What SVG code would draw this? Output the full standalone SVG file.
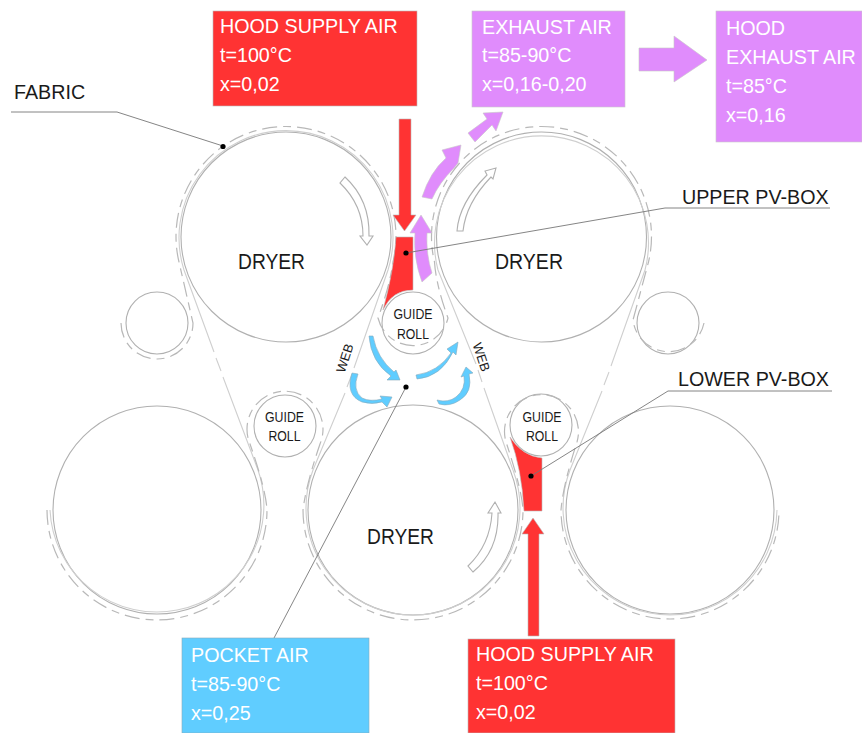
<svg xmlns="http://www.w3.org/2000/svg" width="862" height="733" viewBox="0 0 862 733">
<defs>
<style>
text{font-family:"Liberation Sans",Arial,sans-serif;font-size:19.7px;fill:#1a1a1a}
.box text{fill:#fff}
.small{font-size:15px;text-anchor:middle}
.web-t{font-size:13px;text-anchor:middle}
.dry{font-size:22px;text-anchor:middle}
.roll{fill:#fff;stroke:#b0b0b0;stroke-width:1.1}
.fab{fill:none;stroke:#b8b8b8;stroke-width:1.2;stroke-dasharray:15 6 8 6}
.web{fill:none;stroke:#cfcfcf;stroke-width:1.1}
.lead{fill:none;stroke:#777;stroke-width:.9}
.dot{fill:#000}
.red{fill:#ff3333;stroke:#bbb;stroke-width:.6}
.pur{fill:#e08cfc;stroke:#c8c8c8;stroke-width:.6}
.blu{fill:#60cdff;stroke:#8ab;stroke-width:.6}
.wht{fill:#fff;stroke:#b0b0b0;stroke-width:1.1}
</style>
</defs>
<g id="dryer-top-left"><circle class="roll" cx="286" cy="237" r="105"/></g>
<g id="dryer-top-right"><circle class="roll" cx="541.5" cy="237" r="105"/></g>
<g id="dryer-bottom-left"><circle class="roll" cx="157" cy="510" r="104"/></g>
<g id="dryer-bottom-mid"><circle class="roll" cx="413" cy="510" r="105"/></g>
<g id="dryer-bottom-right"><circle class="roll" cx="670" cy="510" r="104"/></g>
<g id="roll-left"><circle class="roll" cx="157" cy="323" r="31"/></g>
<g id="roll-right"><circle class="roll" cx="668" cy="323" r="31"/></g>
<g id="guide-roll-top"><circle class="roll" cx="413" cy="323" r="31"/></g>
<g id="guide-roll-left"><circle class="roll" cx="285" cy="426" r="31"/></g>
<g id="guide-roll-right"><circle class="roll" cx="541" cy="425" r="31"/></g>
<g id="fabric-and-web">
<path class="web" d="M50 510A107 107 0 1 0 258 470L223 377M221 371L216 358M214 352L184 270A107 107 0 1 1 388 270L354 368M352 374L347 387M345 393L313 470A107 107 0 1 0 513 470L484 388M482 382L478 370M476 364L438 270A107 107 0 1 1 645 270L611 366M609 372L604 385M602 391L570 470A107 107 0 1 0 777 510"/>
<path class="fab" d="M121 323A36 36 0 0 0 193 323L179 262A110 110 0 1 1 393 262Q390 285 378 318A36 36 0 0 0 448 318Q436 285 434.5 262A110 110 0 1 1 648.5 262L633 320A36 36 0 0 0 704 323"/>
<path class="fab" d="M47 510A110 110 0 0 0 267 510Q266 490 250 444A38 38 0 1 1 320 444Q306 485 303 510A110 110 0 0 0 523 510Q522 490 506 442A37 37 0 1 1 577 442Q563 485 561 510A109 109 0 0 0 779 510"/>
</g>
<g id="upper-pv-box"><path class="red" d="M396 237H413V290Q392 290 383 310Q394 270 396 237Z"/></g>
<g id="lower-pv-box"><path class="red" d="M510 437Q522 456 542 458V511H524Q522 470 510 437Z"/></g>
<g id="flow-arrows">
<path class="red" d="M399 119H411V215H416L404.500 231L393 215H399Z"/>
<path class="red" d="M528 636V534H522L533 518L544 534H539V636Z"/>
<path class="pur" d="M422 282Q413 258 415 233H410L421 215L432 233H427Q426 255 432 273Z"/>
<path class="pur" d="M422 197Q430 172 446 158L442 150L461 145L458 163L454 168Q439 183 432 199Z"/>
<path class="pur" d="M468 133L487 119L483 113L503 112L496 131L492 125L475 142Z"/>
<path class="pur" d="M639 48H674V36L707 60L674 82V71H639Z"/>
<path class="wht" d="M345 177Q370 200 369 236H373L367 245L360 236H363Q363 205 340 183Z"/>
<path class="wht" d="M457 231Q459 203 487 175L485 171L496 168L493 179L491 177Q466 203 463 231Z"/>
<path class="wht" d="M492 513H488L495 502L501 513H498Q499 550 473 572L468 566Q490 545 492 513Z"/>
<path class="blu" d="M369 336H373Q377 358 394 372L396 370L400 380L387 380L391 376Q371 362 369 336Z"/>
<path class="blu" d="M416 375Q438 372 451 353L447 349L458 342L456 355L453 352Q441 377 417 379Z"/>
<path class="blu" d="M352 373Q345 395 362 402Q372 405 382 402L387 407L392 397L380 396L382 399Q370 402 362 398Q352 390 358 374Z"/>
<path class="blu" d="M437 400Q448 403 456 397Q466 389 464 376L461 377L466 367L473 373L469 374Q473 392 460 400Q450 407 439 404Z"/>
</g>
<g id="connectors">
<path class="lead" d="M11 112H117L223 146"/>
<path class="lead" d="M406 253L665 208H830"/>
<path class="lead" d="M531 476L668 391H832"/>
<path class="lead" d="M406 387L274 638"/>
</g>
<circle class="dot" cx="223" cy="146.500" r="2.600"/>
<circle class="dot" cx="406" cy="253" r="2.600"/>
<circle class="dot" cx="531" cy="476" r="2.600"/>
<circle class="dot" cx="406" cy="387" r="2.600"/>
<text class="dry" x="271.500" y="269" textLength="67" lengthAdjust="spacingAndGlyphs">DRYER</text>
<text class="dry" x="529" y="269" textLength="68" lengthAdjust="spacingAndGlyphs">DRYER</text>
<text class="dry" x="400.500" y="544" textLength="67" lengthAdjust="spacingAndGlyphs">DRYER</text>
<text class="small" x="413" y="319" textLength="39" lengthAdjust="spacingAndGlyphs">GUIDE</text>
<text class="small" x="413" y="339" textLength="32" lengthAdjust="spacingAndGlyphs">ROLL</text>
<text class="small" x="284.500" y="422" textLength="39" lengthAdjust="spacingAndGlyphs">GUIDE</text>
<text class="small" x="284.500" y="441" textLength="32" lengthAdjust="spacingAndGlyphs">ROLL</text>
<text class="small" x="542" y="422" textLength="39" lengthAdjust="spacingAndGlyphs">GUIDE</text>
<text class="small" x="542" y="441" textLength="32" lengthAdjust="spacingAndGlyphs">ROLL</text>
<text class="web-t" transform="translate(349 359.500) rotate(-72)">WEB</text>
<text class="web-t" transform="translate(477 358.500) rotate(72)">WEB</text>
<text x="14" y="99">FABRIC</text>
<text x="682" y="204">UPPER PV-BOX</text>
<text x="678" y="386">LOWER PV-BOX</text>
<g id="box-hood-supply-top" class="box"><rect class="red" x="213" y="11" width="204" height="95"/><text x="220" y="33">HOOD SUPPLY AIR</text><text x="220" y="62">t=100°C</text><text x="220" y="91">x=0,02</text></g>
<g id="box-exhaust" class="box"><rect class="pur" x="472" y="11" width="153" height="96"/><text x="482" y="34">EXHAUST AIR</text><text x="482" y="62">t=85-90°C</text><text x="482" y="91">x=0,16-0,20</text></g>
<g id="box-hood-exhaust" class="box"><rect class="pur" x="716" y="11" width="146" height="131"/><text x="726" y="35">HOOD</text><text x="726" y="64">EXHAUST AIR</text><text x="726" y="93">t=85°C</text><text x="726" y="122">x=0,16</text></g>
<g id="box-pocket" class="box"><rect class="blu" x="182" y="638" width="187" height="95"/><text x="191" y="662">POCKET AIR</text><text x="191" y="691">t=85-90°C</text><text x="191" y="720">x=0,25</text></g>
<g id="box-hood-supply-bottom" class="box"><rect class="red" x="468" y="639" width="207" height="94"/><text x="476" y="661">HOOD SUPPLY AIR</text><text x="476" y="690">t=100°C</text><text x="476" y="719">x=0,02</text></g>
</svg>
